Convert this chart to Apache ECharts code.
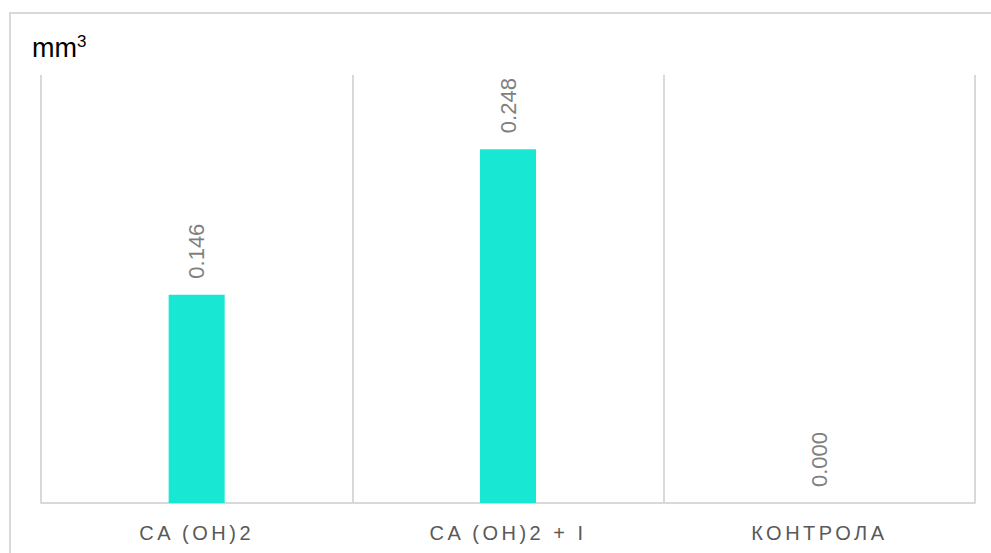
<!DOCTYPE html>
<html lang="en">
<head>
  <meta charset="UTF-8">
  <title>mm3</title>
  <script src="https://cdn.jsdelivr.net/npm/echarts@6/dist/echarts.min.js"></script>
  <style>
    html, body { margin: 0; padding: 0; background: #fff; }
    #main { width: 991px; height: 553px; }
    /* axis labels are letter-spaced in the original */
    #main text[fill="#595959"] { letter-spacing: 3.5px; }
  </style>
</head>
<body>
  <div id="main"></div>
  <script>
    // data
    var categories = ['CA (OH)2', 'CA (OH)2 + I', 'КОНТРОЛА'];
    var values = [0.146, 0.248, 0.000];

    var chart = echarts.init(document.getElementById('main'), null, {renderer: 'svg'});

    var option = {
      animation: false,
      grid: {left: 41, right: 16, top: 75, bottom: 50},
      graphic: [{
        type: 'rect',
        shape: {x: 10, y: 13, width: 1200, height: 800},
        style: {fill: 'none', stroke: '#d9d9d9', lineWidth: 2},
        silent: true
      }],
      title: {
        left: 27, top: 28,
        text: '{a|mm}{b|3}',
        textStyle: {
          fontWeight: 'normal',
          rich: {
            a: {fontSize: 27, fontWeight: 'normal', fontFamily: 'Liberation Sans', color: '#000', lineHeight: 30},
            b: {fontSize: 17, fontWeight: 'normal', fontFamily: 'Liberation Sans', color: '#000', verticalAlign: 'top', lineHeight: 28}
          }
        }
      },
      xAxis: {
        type: 'category',
        data: categories,
        axisTick: {show: false},
        axisLine: {lineStyle: {color: '#d9d9d9', width: 2}},
        splitLine: {show: true, lineStyle: {color: '#d9d9d9', width: 2}},
        axisLabel: {color: '#595959', fontSize: 20, fontFamily: 'Liberation Sans', margin: 20}
      },
      yAxis: {
        type: 'value',
        min: 0, max: 0.3,
        show: false
      },
      series: [{
        type: 'bar',
        data: values,
        barWidth: '18%',
        itemStyle: {color: '#18e8d3'},
        label: {
          show: true,
          position: 'top',
          rotate: 90,
          align: 'left',
          verticalAlign: 'middle',
          distance: 16,
          color: '#7f7f7f',
          fontSize: 22,
          fontFamily: 'Liberation Sans',
          formatter: function (p) { return p.value.toFixed(3); }
        }
      }]
    };

    chart.setOption(option);
  </script>
</body>
</html>
